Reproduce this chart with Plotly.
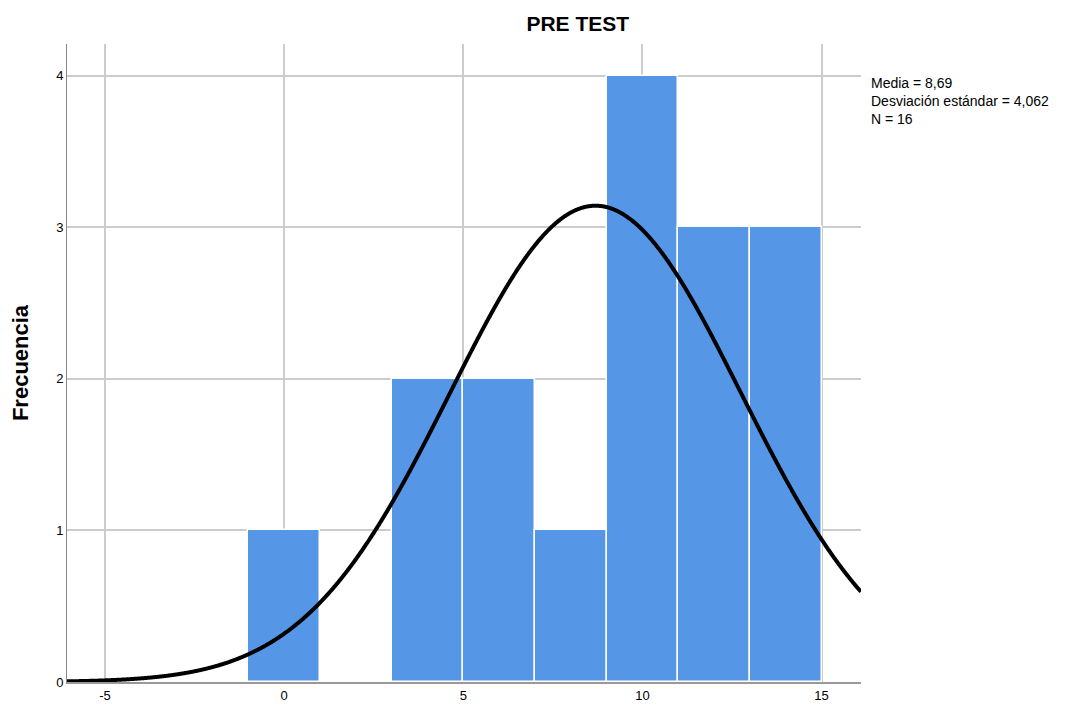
import numpy as np
import plotly.graph_objects as go

# Data
bin_centers = [0, 4, 6, 8, 10, 12, 14]
counts = [1, 2, 2, 1, 4, 3, 3]
bin_width = 2
mean_val = 8.69
sd_val = 4.062
n_val = 16
x_ticks = [-5, 0, 5, 10, 15]
x_tick_labels = ["-5", "0", "5", "10", "15"]
y_ticks = [0, 1, 2, 3, 4]

# Normal curve from stated parameters
xc = np.linspace(-6.1, 16.1, 1200)
yc = n_val * bin_width / (sd_val * np.sqrt(2 * np.pi)) * np.exp(-0.5 * ((xc - mean_val) / sd_val) ** 2)

fig = go.Figure()
fig.add_trace(go.Bar(
    x=bin_centers, y=counts, width=[bin_width] * len(bin_centers),
    marker=dict(color="#5596E6", line=dict(color="white", width=1.5)),
    showlegend=False, hoverinfo="x+y"))
fig.add_trace(go.Scatter(
    x=xc, y=yc, mode="lines", line=dict(color="black", width=4, shape="spline"),
    showlegend=False, hoverinfo="skip"))

fig.update_layout(
    width=1067, height=711,
    margin=dict(l=59, r=214, t=36, b=37),
    plot_bgcolor="white", paper_bgcolor="white",
    font=dict(family="Arial, Liberation Sans, sans-serif", color="black", size=13),
    title=dict(text="<b>PRE TEST</b>", x=0.534, xanchor="center", y=0.978, yanchor="middle",
               font=dict(size=21)),
    bargap=0,
    xaxis=dict(range=[-6.06, 16.1], tickvals=x_ticks, ticktext=x_tick_labels,
               showgrid=True, gridcolor="#CCCCCC",
               gridwidth=1.5, zeroline=False, showline=True, linecolor="#999999", linewidth=2,
               ticks="", ticklen=0, tickfont=dict(size=13), layer="below traces"),
    yaxis=dict(range=[0, 4.21], tickvals=y_ticks, showgrid=True, gridcolor="#CCCCCC",
               gridwidth=2, zeroline=False, showline=True, linecolor="#888888", linewidth=1,
               ticks="", tickfont=dict(size=13),
               title=dict(text="<b>Frecuencia</b>", font=dict(size=22), standoff=22)),
    annotations=[dict(
        text="Media = 8,69<br>Desviación estándar = 4,062<br>N = 16",
        xref="paper", yref="paper", x=1.01, y=0.955, xanchor="left", yanchor="top",
        align="left", showarrow=False, font=dict(size=14))]
)

fig.write_html("out.html")
